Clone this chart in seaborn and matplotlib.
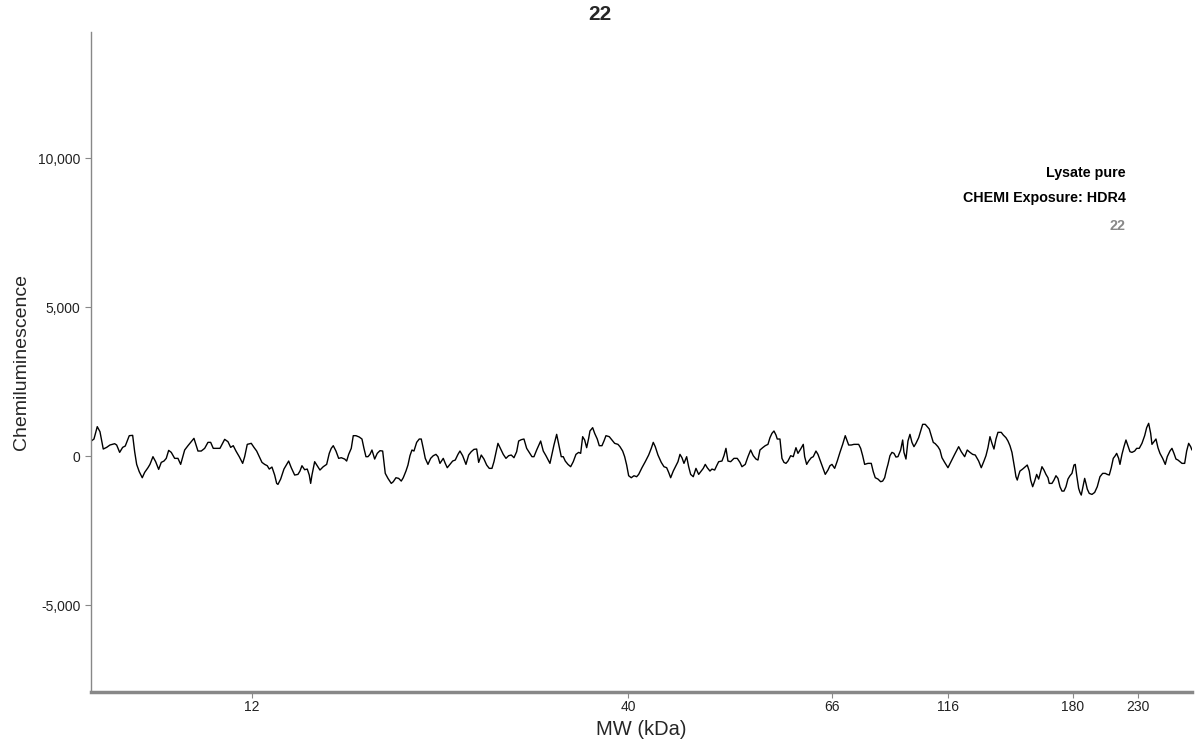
import matplotlib
matplotlib.use("Agg")
import matplotlib.pyplot as plt
import matplotlib.ticker as mticker
import seaborn as sns
import pandas as pd

# electropherogram trace, position along the capillary vs signal
position = [
    0.3, 3, 6.3, 9, 12.3, 15.7, 19, 23.7, 25.7, 28.7, 31.7, 34.3, 38.3, 41.7, 43.7, 45.7,
    48.3, 51.3, 53.7, 57, 59, 62, 64.7, 67.7, 70.3, 73, 75.3, 77.7, 80.3, 83.7, 87, 89.7,
    93.7, 97, 103, 107, 110.3, 113.7, 117, 119.7, 122.3, 129, 133.7, 137, 139.7, 142.3, 145,
    148.3, 151.7, 153.7, 156.3,
    160.3, 163, 165.7, 168.3, 171, 173.7, 176.3, 178.3, 181, 183.7, 185.7, 187, 189.7, 193,
    195, 197.7, 200.3, 203.7, 207, 209, 211, 213.7, 216.3, 218.3, 219.7, 221, 223.7, 226.3,
    229, 232.3, 235.7, 238.3, 240.3, 242.3, 245, 247.7, 250.3, 253.7, 255.7, 257.7, 260.3,
    262.3, 265, 268.3, 271, 273, 275, 277, 279, 281, 283.7, 286.3, 289, 291.7, 294.3, 297,
    300.3, 302.3, 305, 307.7, 310.3, 312.3, 315, 317,
    319, 321, 323, 325.7, 328.3, 330.3, 332.3, 334.3, 337, 339.7, 342.3, 345, 347, 349,
    352.3, 354.3, 356.3, 359, 361.7, 364.3, 367, 369, 371.7, 375, 377.7, 380.3, 383, 385.7,
    387.7, 390.3, 393, 395.7, 398.3, 401, 403, 405, 407, 409.7, 412.3, 415, 417.7, 420.3,
    423, 425.7, 427.7, 430.3, 433, 435.7, 438.3, 441, 443, 445.7, 449.7, 452.3, 455, 459,
    463, 465.7, 468.3, 470.3, 472.3, 474.3, 477,
    479.7, 482.3, 485, 487.7, 489.7, 491.7, 493.7, 495.7, 497.7, 499, 501.7, 503.7, 506.3,
    508.3, 511, 513, 515, 518.3, 521, 523.7, 527, 529, 531.7, 533.7, 535.7, 537.7, 540.3,
    543, 545.7, 547.7, 551, 554.3, 557.7, 560.3, 562.3, 564.3, 567, 570.3, 573, 575.7,
    577.7, 579.7, 582.3, 585, 587, 589, 591, 593, 595.7, 597.7, 599.7, 602.3, 605, 607.7,
    610.3, 612.3, 614.3, 616.3, 619, 621, 623.7, 625.7, 627.7, 631, 633, 635, 637,
    639.7, 643, 646.3, 649, 651, 654.3, 657, 659.7, 662.3, 665, 667, 669, 671.7, 674.3,
    677, 679, 681, 683, 685, 686.3, 689, 691, 693, 695, 697, 699.7, 702.3, 705, 707, 709.7,
    712.3, 713.7, 715.7, 717.7, 720.3, 722.3, 725, 727, 729.7, 732.3, 734.3, 737, 739, 741,
    743.7, 746.3, 749, 751.7, 754.3, 756.3, 757.7, 760.3, 763, 767.7, 769.7, 771.7, 773.7,
    777, 780.3, 782.3, 784.3, 787, 789.7, 791.7, 793.7, 795.7, 797,
    799, 801, 803, 805, 807, 809.7, 811.7, 813, 815, 817, 819, 821, 823, 825, 827.7, 829.7,
    831.7, 834.3, 836.3, 838.3, 840.3, 842.3, 844.3, 847, 849, 851, 853.7, 857, 860.3,
    863.7, 867.7, 870.3, 873.7, 876.3, 879, 881.7, 884.3, 887.7, 890.3, 893, 895, 897, 899,
    901, 903, 905, 907, 910.3, 912.3, 915, 917, 919, 921, 922.3, 923.7, 925, 926.3, 927.7,
    929, 931.7, 934.3, 936.3, 938.3, 939.7, 941.7, 943.7, 945.7, 947.7, 949.7, 951, 953,
    955, 957,
    958.3, 961, 963, 965, 967, 969, 971, 973, 975, 977, 979, 981, 983, 984.3, 985.7, 987.7,
    989, 990.3, 991.7, 993.7, 995, 996.3, 998.3, 1001, 1003.7, 1006.3, 1009, 1011.7,
    1014.3, 1016.3, 1018.3, 1020.3, 1022.3, 1024.3, 1025.7, 1027.7, 1029, 1031, 1033, 1035,
    1037, 1039, 1041, 1043.7, 1045.7, 1048.3, 1051, 1053.7, 1055.7, 1057.7, 1059.7, 1061,
    1063, 1065, 1067, 1069, 1071.7, 1074.3, 1076.3, 1079, 1081, 1083, 1085, 1087, 1089,
    1091, 1093.7, 1095.7, 1097.7, 1099.7, 1101,
]
signal = [
    504, 571, 986, 818, 235, 291, 370, 414, 370, 123, 291, 336, 683, 694, 146, -280,
    -526, -728, -549, -392, -280, -22, -190, -448, -213, -168, -78, 190, 123, -78, -78, -280,
    202, 347, 594, 168, 168, 258, 459, 459, 258, 258, 560, 482, 291, 347, 168,
    -22, -246, -22, 392,
    426, 291, 168, -22, -213, -280, -325, -437, -370, -638, -918, -952, -773, -437,
    -325, -168, -392, -638, -616, -504, -325, -459, -437, -638, -918, -638, -190, -325,
    -470, -358, -280, 90, 258, 347, 168, -78, -56, -101, -168, 56, 258,
    683, 683, 638, 571, 258, -22, -22, 56, 202, -101, 90, 179, 168, -582, -750,
    -918, -862, -728, -750, -840, -728, -504, -302,
    11, 202, 168, 459, 571, 571, 258, -78, -280, -78, 11, 56, -22, -246,
    -78, -246, -392, -280, -168, -134, 56, 168, 11, -280, 34, 146, 224, 235,
    -213, 34, -101, -302, -414, -414, -190, 123, 426, 235, 56, -78, 11, 34,
    -56, 146, 504, 549, 571, 258, 123, -22, -22, 202, 504, 168, 11, -246,
    370, 728, 314, -22, -22, -168, -280,
    -358, -190, 56, 123, 90, 650, 538, 280, 594, 840, 952, 762, 571,
    347, 347, 504, 683, 650, 538, 426, 392, 314, 168, -22, -302, -661, -728,
    -661, -694, -616, -392, -190, 34, 258, 459, 314, 34, -213, -358, -392,
    -549, -728, -504, -325, -190, 56, -56, -246, -22, -358, -616, -694, -414, -616,
    -504, -414, -280, -392, -504, -437, -470, -325, -190, -168, 11, 258, -168,
    -190, -78, -78, -213, -358, -280, -22, 202, 11, -101, -134, 202, 280, 347,
    392, 616, 762, 840, 706, 571, 571, -78, -213, -246, -168, 11, -22, 280, 90, 235,
    392, -22, -280, -168, -56, -22, 168, 56, -190, -437, -616, -470, -325, -280,
    -414, -168, 123, 392, 683, 504, 370, 370, 392, 392, 258, 11, -280,
    -246, -246, -526, -728, -773, -862, -840, -728, -437, -280,
    11, 123, 90, -34, -22, 202, 538, 123, -101, 504, 728, 459, 314, 426, 616, 840,
    1064, 1064, 986, 907, 683, 459, 414, 314, 202, -56, -213, -392, -168,
    56, 314, 146, -22, 202, 123, 56, 34, -168, -392, -168, 11, 280, 650,
    426, 235, 571, 795, 795, 706, 616, 504, 347, 123, -134, -414, -694, -806, -638,
    -504, -437, -358, -302, -504, -806, -1030, -840, -616, -773, -526, -358, -470,
    -616, -728,
    -918, -918, -806, -661, -750, -1030, -1176, -1176, -1030, -773, -661, -582, -302, -280, -638, -1086,
    -1221, -1310, -1086, -750, -918, -1109, -1254, -1288, -1221, -1030, -694, -582,
    -582, -616, -638, -392, -78, 11, 90, -78, -280, 56, 314, 538,
    347, 146, 123, 168, 258, 258, 426, 683, 952, 1098, 762, 392,
    482, 571, 280, 90, -78, -280, -22, 168, 258, 90, -101, -134, -190,
    -246, -246, 168, 426, 314, 202,
]

mw_labels = ["12", "40", "66", "116", "180", "230"]
mw_positions = [161, 537, 741, 857, 982, 1047]

df = pd.DataFrame({"position": position, "signal": signal})

sns.set_style("white")
plt.rcParams["font.family"] = ["Liberation Sans", "DejaVu Sans"]

fig = plt.figure(figsize=(12, 7.5), dpi=100)
ax = fig.add_axes([0.0758, 0.0773, 0.9175, 0.8800])

sns.lineplot(data=df, x="position", y="signal", color="black", linewidth=1.0, ax=ax,
             estimator=None, sort=False)

ax.set_xlim(0, 1101)
ax.set_ylim(-7920, 14230)
ax.set_xticks(mw_positions)
ax.set_xticklabels(mw_labels)
ax.set_yticks([-5000, 0, 5000, 10000])
ax.yaxis.set_major_formatter(mticker.FuncFormatter(lambda v, p: f"{v:,.0f}"))
ax.tick_params(axis="both", labelsize=10, length=4, width=0.8,
               direction="out", bottom=True, left=True)
ax.tick_params(axis="x", colors="#888888", labelcolor="#222222", pad=2)
ax.tick_params(axis="y", colors="#888888", labelcolor="#222222")

for side in ["top", "right"]:
    ax.spines[side].set_visible(False)
ax.spines["left"].set_color("#888888")
ax.spines["left"].set_linewidth(1.0)
ax.spines["bottom"].set_color("#888888")
ax.spines["bottom"].set_linewidth(2.5)

ax.set_xlabel("MW (kDa)", fontsize=14.5, labelpad=4)
ax.set_ylabel("Chemiluminescence", fontsize=14, labelpad=6)
fig.suptitle("22", fontsize=15, fontweight="bold", y=0.993)

ax.text(0.94, 0.786, "Lysate pure", transform=ax.transAxes, ha="right", va="center",
        fontsize=10.3, fontweight="bold", color="black")
ax.text(0.94, 0.748, "CHEMI Exposure: HDR4", transform=ax.transAxes, ha="right",
        va="center", fontsize=10.3, fontweight="bold", color="black")
ax.text(0.94, 0.706, "22", transform=ax.transAxes, ha="right", va="center",
        fontsize=10.3, fontweight="bold", color="#888888")

fig.savefig("out.png", dpi=100)
